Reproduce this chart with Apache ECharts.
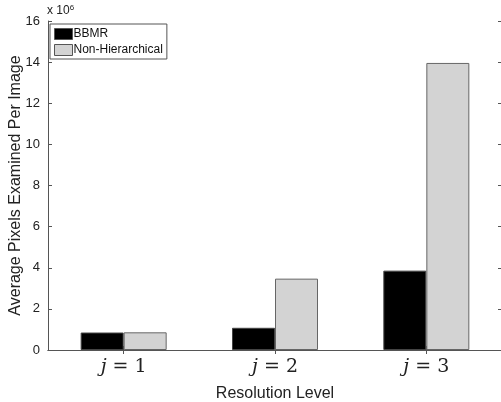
<!DOCTYPE html>
<html>
<head>
<meta charset="utf-8">
<script src="https://cdn.jsdelivr.net/npm/echarts@6/dist/echarts.min.js"></script>
<style>
  html, body { margin: 0; padding: 0; background: #fff; }
  #main { width: 501px; height: 402px; }
</style>
</head>
<body>
<div id="main"></div>
<script>
var levels = ['1', '2', '3'];
var bbmr = [0.85, 1.08, 3.86];
var nonHier = [0.86, 3.47, 13.96];
var yTicks = [0, 2, 4, 6, 8, 10, 12, 14, 16];

var chart = echarts.init(document.getElementById('main'));

var axisLine = { lineStyle: { color: '#555', width: 1 } };

option = {
    animation: false,
    backgroundColor: '#fff',
    grid: { left: 48, top: 21, right: -1, bottom: 52, outerBoundsMode: 'none', containLabel: false },
    legend: {
        left: 50,
        top: 24,
        orient: 'vertical',
        icon: 'rect',
        itemWidth: 18,
        itemHeight: 11,
        itemGap: 4,
        padding: [4, 4, 3, 4],
        borderColor: '#555',
        borderWidth: 1,
        borderRadius: 0,
        backgroundColor: '#fff',
        textStyle: { fontFamily: 'Liberation Sans', fontSize: 12, color: '#111', padding: [0, 0, 0, -4] },
        data: [
            { name: 'BBMR', itemStyle: { color: '#000', borderColor: '#555', borderWidth: 1 } },
            { name: 'Non-Hierarchical', itemStyle: { color: '#d3d3d3', borderColor: '#555', borderWidth: 1 } }
        ]
    },
    xAxis: [
        {
            type: 'category',
            data: levels,
            name: 'Resolution Level',
            nameLocation: 'middle',
            nameGap: 36,
            nameMoveOverlap: false,
            nameTextStyle: { fontFamily: 'Liberation Sans', fontSize: 16, color: '#222' },
            axisLine: axisLine,
            axisTick: { show: true, inside: true, alignWithLabel: true, length: 4, lineStyle: { color: '#555' } },
            axisLabel: {
                margin: 8,
                formatter: function (v) { return '{j|j}{eq| = ' + v + '}'; },
                rich: {
                    j: { fontFamily: 'DejaVu Serif', fontStyle: 'italic', fontSize: 19, color: '#222' },
                    eq: { fontFamily: 'DejaVu Serif', fontSize: 19, color: '#222' }
                }
            }
        },
        {
            type: 'category',
            data: levels,
            position: 'top',
            axisLine: axisLine,
            axisTick: { show: true, inside: true, alignWithLabel: true, length: 4, lineStyle: { color: '#555' } },
            axisLabel: { show: false }
        }
    ],
    yAxis: [
        {
            type: 'value',
            min: 0,
            max: 16,
            interval: 2,
            name: 'Average Pixels Examined Per Image',
            nameLocation: 'middle',
            nameGap: 24,
            nameMoveOverlap: false,
            nameTextStyle: { fontFamily: 'Liberation Sans', fontSize: 16, color: '#222' },
            axisLine: { show: true, lineStyle: { color: '#555', width: 1 } },
            axisTick: { show: true, inside: true, length: 4, lineStyle: { color: '#555' } },
            splitLine: { show: false },
            axisLabel: {
                margin: 8,
                fontFamily: 'Liberation Sans',
                fontSize: 13,
                color: '#222',
                formatter: function (v) { return yTicks.indexOf(v) >= 0 ? String(v) : ''; }
            }
        },
        {
            type: 'value',
            min: 0,
            max: 16,
            interval: 2,
            position: 'right',
            axisLine: { show: true, lineStyle: { color: '#555', width: 1 } },
            axisTick: { show: true, inside: true, length: 4, lineStyle: { color: '#555' } },
            splitLine: { show: false },
            axisLabel: { show: false }
        }
    ],
    graphic: [
        {
            type: 'text',
            left: 47,
            top: 4,
            style: {
                text: 'x 10{s|6}',
                fontFamily: 'Liberation Sans',
                fontSize: 12,
                fill: '#222',
                rich: { s: { fontSize: 8, verticalAlign: 'top', padding: [0, 0, 6, 0] } }
            }
        }
    ],
    series: [
        {
            name: 'BBMR',
            type: 'bar',
            data: bbmr,
            barWidth: 43,
            barGap: '0%',
            itemStyle: { color: '#000', borderColor: '#444', borderWidth: 1 }
        },
        {
            name: 'Non-Hierarchical',
            type: 'bar',
            data: nonHier,
            barWidth: 43,
            barGap: '0%',
            itemStyle: { color: '#d3d3d3', borderColor: '#666', borderWidth: 1 }
        }
    ]
};
chart.setOption(option);
</script>
</body>
</html>
